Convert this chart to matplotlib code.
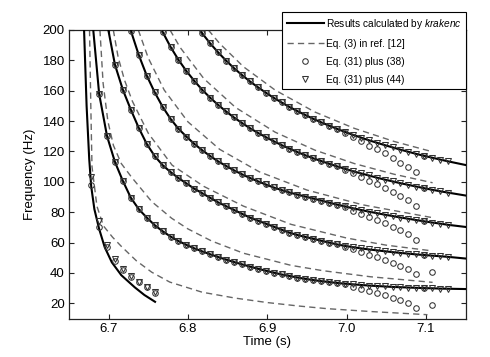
import numpy as np
import matplotlib
matplotlib.use("Agg")
import matplotlib.pyplot as plt
from matplotlib.ticker import FormatStrFormatter

plt.rcParams.update({
    "font.family": ["Liberation Sans", "DejaVu Sans"],
    "mathtext.fontset": "custom",
    "mathtext.rm": "Liberation Sans",
    "mathtext.it": "Liberation Sans:italic",
    "font.size": 9.5,
})
INK = "#222222"; DASH = "#666666"; MK = "#333333"

# marker times (s), shared by the two Eq. (31) series
t_mark = [6.678, 6.688, 6.698, 6.708, 6.718, 6.728, 6.738, 6.748, 6.758, 6.768,
          6.778, 6.788, 6.798, 6.808, 6.818, 6.828, 6.838, 6.848, 6.858, 6.868,
          6.878, 6.888, 6.898, 6.908, 6.918, 6.928, 6.938, 6.948, 6.958, 6.968,
          6.978, 6.988, 6.998, 7.008, 7.018, 7.028, 7.038, 7.048, 7.058, 7.068,
          7.078, 7.088, 7.098, 7.108, 7.118, 7.128]
mark_start = [0, 1, 3, 5, 9, 14]   # first marker time index of each mode

# Eq. (31) plus (44) -- triangles, modes 1..6 (Hz)
tri_f = [
    [103, 74, 58.5, 49, 42.5, 38, 34.2, 31, 27.5],
    [158, 130, 113, 100.5, 89.5, 82, 76.5, 71.5, 67.5, 64, 61, 58.5, 56.2, 54.2, 52.3,
     50.5, 48.8, 47.2, 45.7, 44.2, 42.8, 41.5, 40.2, 39, 38, 37, 36.1, 35.3, 34.6, 34,
     33.4, 32.9, 32.5, 32.1, 31.7, 31.4, 31.1, 30.8, 30.6, 30.4, 30.2, 30.0, 29.9, 29.7, 29.6],
    [177, 160.5, 147.5, 135.5, 125, 117, 111, 106.5, 102.5, 99, 95.5, 92.5, 89.5, 86.5, 84,
     81.5, 79, 76.5, 74.5, 72.5, 70.5, 68.5, 66.5, 65, 63.7, 62.5, 61.2, 60, 58.8, 57.8,
     57, 56.2, 55.5, 54.9, 54.3, 53.7, 53.2, 52.7, 52.2, 51.8, 51.4, 51, 50.6],
    [199.5, 183.5, 170, 159, 149.5, 141.5, 135, 129.8, 125, 120.8, 117, 113.5, 110.5, 107.6,
     105, 102.6, 100.4, 98.3, 96.3, 94.6, 93, 91.6, 90.3, 89, 87.7, 86.3, 85, 83.8, 82.6,
     81.5, 80.4, 79.4, 78.4, 77.5, 76.5, 75.7, 74.8, 74, 73.2, 72.5, 71.7],
    [198.8, 188.9, 180.4, 173.0, 166.5, 160.6, 155.4, 150.7, 146.4, 142.4, 138.8, 135.4,
     132.3, 129.5, 126.8, 124.2, 121.9, 119.6, 117.5, 115.5, 113.7, 111.9, 110.2, 108.6,
     107.0, 105.6, 104.2, 102.8, 101.5, 100.3, 99.1, 98.0, 96.9, 95.8, 94.8, 93.8, 92.9],
    [197.8, 191.2, 185.3, 179.9, 174.9, 170.4, 166.2, 162.4, 158.8, 155.4, 152.3, 149.3,
     146.6, 144.0, 141.5, 139.2, 137.0, 134.9, 132.9, 131.0, 129.2, 127.4, 125.8, 124.2,
     122.7, 121.2, 119.8, 118.4, 117.1, 115.9, 114.7, 113.5],
]
# Eq. (31) plus (38) -- circles
circ_f = [
    [98, 70, 57, 48, 42, 37.5, 33.8, 30.5, 27],
    [158, 130, 113, 100.5, 89.5, 82, 76.5, 71.5, 67.5, 64, 61, 58.5, 56.2, 54.2, 52.3,
     50.5, 48.8, 47.2, 45.7, 44.2, 42.8, 41.5, 40.2, 39, 38, 37, 36.1, 35.3, 34.6, 34,
     33.4, 32.4, 31.0, 29.6, 28.2, 26.9, 25.6, 23.8, 22.1, 20.4, 17.2, 30.0, 18.9],
    [177, 160.5, 147.5, 135.5, 125, 117, 111, 106.5, 102.5, 99, 95.5, 92.5, 89.5, 86.5, 84,
     81.5, 79, 76.5, 74.5, 72.5, 70.5, 68.5, 66.5, 65, 63.7, 62.5, 61.2, 60, 58.8,
     57.3, 55.5, 53.7, 52.0, 50.4, 48.8, 46.7, 44.7, 42.7, 39.2, 51.8, 40.4],
    [199.5, 183.5, 170, 159, 149.5, 141.5, 135, 129.8, 125, 120.8, 117, 113.5, 110.5, 107.6,
     105, 102.6, 100.4, 98.3, 96.3, 94.6, 93, 91.6, 90.3, 89, 87.7, 86.3, 85,
     83.3, 81.1, 79.0, 76.9, 74.9, 72.9, 70.5, 68.0, 65.7, 61.8, 74.0],
    [198.8, 188.9, 180.4, 173.0, 166.5, 160.6, 155.4, 150.7, 146.4, 142.4, 138.8, 135.4,
     132.3, 129.5, 126.8, 124.2, 121.9, 119.6, 117.5, 115.5, 113.7, 111.9, 110.2,
     108.1, 105.5, 103.1, 100.7, 98.3, 96.0, 93.3, 90.6, 88.0, 84.4, 95.8],
    [197.8, 191.2, 185.3, 179.9, 174.9, 170.4, 166.2, 162.4, 158.8, 155.4, 152.3, 149.3,
     146.6, 144.0, 141.5, 139.2, 137.0, 134.9,
     132.4, 129.5, 126.7, 123.9, 121.3, 118.7, 115.7, 112.7, 109.8, 106.4, 117.1],
]

# krakenc curves: mode 1 read on its own, modes 2..6 run through the triangles
solid1_t = [6.669, 6.6722, 6.6755, 6.678, 6.682, 6.688, 6.695, 6.704, 6.716, 6.733, 6.745, 6.7585]
solid1_f = [200, 150, 115, 97, 82, 69, 57, 47, 38.5, 30.5, 25.5, 21]
solid_top_t = [6.6806, 6.6996, 6.7275, 6.7669, 6.8155]   # where modes 2..6 leave 200 Hz
solid_end_f = [29.4, 49.5, 70.3, 91.0, 111.1]            # value at t = 7.15 s

# Eq. (3) in ref. [12] -- dashed, modes 1..6
dash_t = [
    [6.6759, 6.6775, 6.679, 6.6852, 6.6934, 6.705, 6.716, 6.735, 6.7543, 6.777, 6.818,
     6.86, 6.90, 6.94, 6.975, 7.03, 7.102],
    [6.689, 6.693, 6.699, 6.706, 6.716, 6.729, 6.7543, 6.7795, 6.80, 6.83, 6.87, 6.93,
     6.97, 7.03, 7.1085],
    [6.7059, 6.712, 6.72, 6.73, 6.75, 6.78, 6.82, 6.87, 6.93, 7.0, 7.05, 7.1085],
    [6.7374, 6.75, 6.77, 6.80, 6.84, 6.89, 6.95, 7.02, 7.1085],
    [6.7774, 6.79, 6.82, 6.86, 6.91, 6.96, 7.01, 7.06, 7.1085],
    [6.8257, 6.84, 6.87, 6.91, 6.96, 7.01, 7.06, 7.107],
]
dash_f = [
    [200, 150, 110, 84, 71, 63.5, 57.5, 48, 40.5, 34, 27.3, 23.4, 20.5, 18.2, 16.5, 14.6, 12.5],
    [200, 165, 140, 124, 112, 103, 87, 76, 69, 61, 53, 45, 41.5, 37.5, 33.8],
    [200, 182, 167, 153, 132, 111, 97, 84, 72, 63, 58.3, 54.5],
    [200, 181.5, 160.5, 139.5, 121.4, 106.6, 94.6, 84.9, 76.4],
    [200, 188.6, 168, 149, 132.7, 120.9, 112, 105, 99.4],
    [200, 191.1, 175.8, 160.4, 146.0, 135.2, 126.6, 120],
]

fig = plt.figure(figsize=(4.9, 3.57), dpi=100); fig.patch.set_facecolor("white")
ax = fig.add_axes([69/490, 1 - 318.5/357, 396.5/490, 288.5/357])

for m in range(6):
    ax.plot(dash_t[m], dash_f[m], color=DASH, lw=1.0, dashes=(4.5, 3.0), zorder=2,
            label="Eq. (3) in ref. [12]" if m == 0 else None)

ax.plot(solid1_t, solid1_f, color="black", lw=1.5, zorder=3,
        label=r"Results calculated by $\it{krakenc}$")
for m in range(1, 6):
    s = mark_start[m]
    tt = [solid_top_t[m-1]] + t_mark[s:s + len(tri_f[m])] + [7.15]
    ff = [200] + tri_f[m] + [solid_end_f[m-1]]
    ax.plot(tt, ff, color="black", lw=1.5, zorder=3)

for m in range(6):
    s = mark_start[m]
    ax.plot(t_mark[s:s + len(circ_f[m])], circ_f[m], "o", ms=4.0, mfc="none", mec=MK,
            mew=0.75, zorder=4, label="Eq. (31) plus (38)" if m == 0 else None)
    ax.plot(t_mark[s:s + len(tri_f[m])], tri_f[m], "v", ms=3.8, mfc="none", mec=MK,
            mew=0.75, zorder=5, label="Eq. (31) plus (44)" if m == 0 else None)

ax.set_xlim(6.65, 7.15); ax.set_ylim(10, 200)
ax.set_xticks([6.7, 6.8, 6.9, 7.0, 7.1]); ax.set_yticks(np.arange(20, 201, 20))
ax.xaxis.set_major_formatter(FormatStrFormatter("%.1f"))
ax.tick_params(direction="in", top=True, right=True, length=3.5, width=0.8,
               color=INK, labelsize=9.5, pad=3)
for sp in ax.spines.values():
    sp.set_color(INK); sp.set_linewidth(0.9)
ax.set_xlabel("Time (s)", fontsize=9.5, labelpad=1)
ax.set_ylabel("Frequency (Hz)", fontsize=9.5, labelpad=5)

h, l = ax.get_legend_handles_labels()
order = [l.index(r"Results calculated by $\it{krakenc}$"), l.index("Eq. (3) in ref. [12]"),
         l.index("Eq. (31) plus (38)"), l.index("Eq. (31) plus (44)")]
leg = ax.legend([h[i] for i in order], [l[i] for i in order], loc="upper right",
                bbox_to_anchor=(466/490, 1 - 12/357), bbox_transform=fig.transFigure,
                fontsize=7.3, frameon=True, fancybox=False, framealpha=1,
                edgecolor="black", borderpad=0.45, labelspacing=0.8,
                handlelength=3.7, handletextpad=0.15, borderaxespad=0)
leg.get_frame().set_linewidth(0.8)
leg.set_zorder(10)

plt.savefig("out.png", dpi=100, facecolor="white")
